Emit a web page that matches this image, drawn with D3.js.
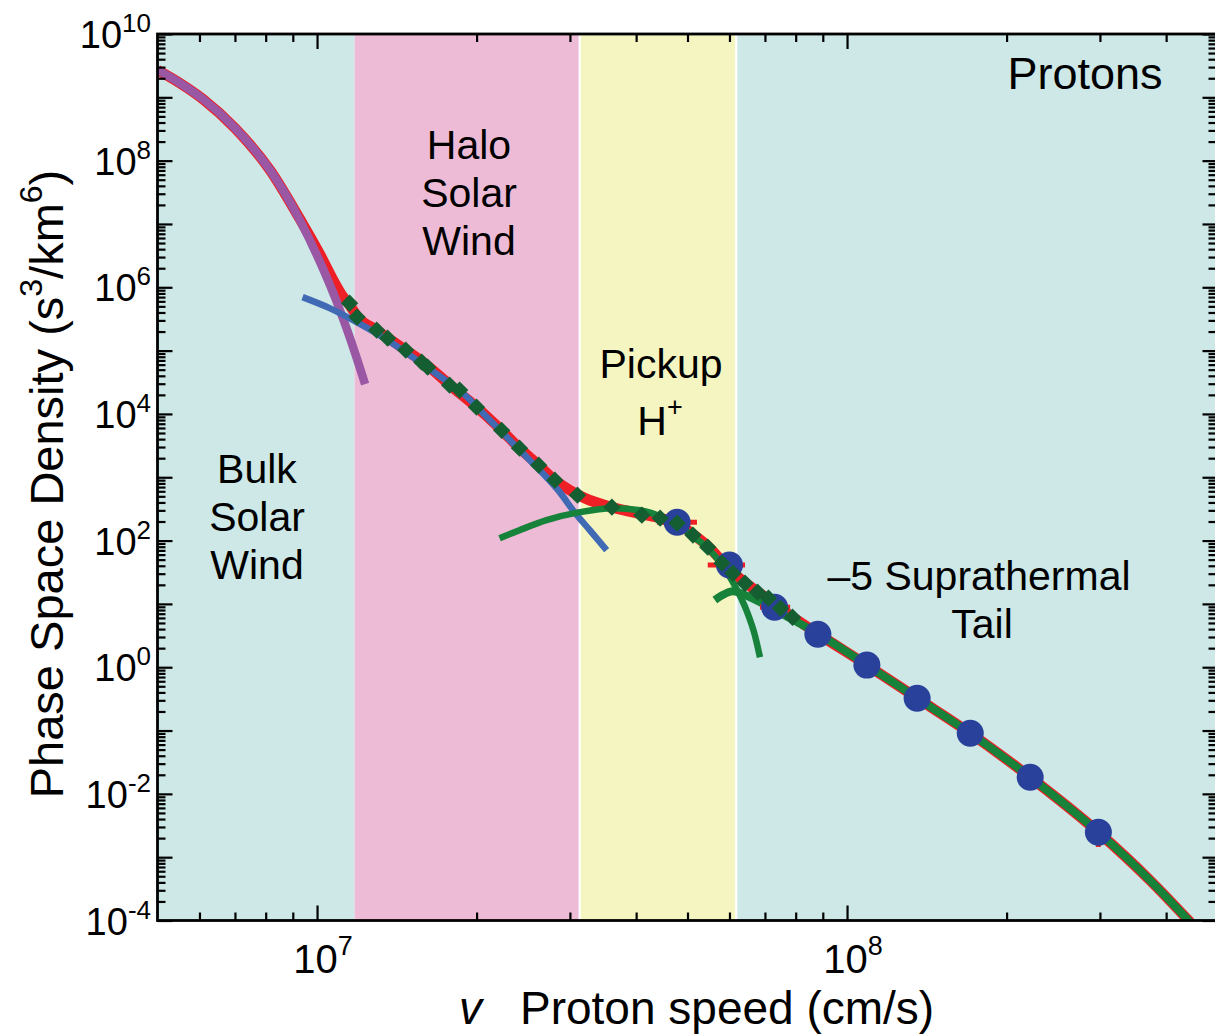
<!DOCTYPE html>
<html>
<head>
<meta charset="utf-8">
<script src="https://cdn.jsdelivr.net/npm/d3@7"></script>
<style>
  body { margin: 0; background: #fff; }
  svg { display: block; }
  text { font-family: "Liberation Sans", Arial, Helvetica, sans-serif; fill: #000; }
</style>
</head>
<body>
<svg id="chart" width="1215" height="1034"></svg>
<script>
// Proton phase space density vs speed.
// [speed (cm/s), phase space density (s^3/km^6)]

const bands = [
  { name: "bulk",   from: 5e6,    to: 1.177e7, color: "#cde8e7" },
  { name: "halo",   from: 1.177e7, to: 3.13e7, color: "#edbbd6" },
  { name: "pickup", from: 3.13e7, to: 6.18e7,  color: "#f5f5c1" },
  { name: "tail",   from: 6.18e7, to: 5e8,     color: "#cde8e7" },
];

// bulk solar wind (Maxwellian core)
const coreCurve = [
  [5.0e6, 2.7e9], [5.51e6, 1.68e9], [6.09e6, 9.4e8], [7.0e6, 3.27e8],
  [8.15e6, 7.11e7], [9.28e6, 1.15e7], [1.013e7, 2.5e6], [1.086e7, 6.28e5],
  [1.154e7, 1.57e5], [1.232e7, 2.96e4],
];

// halo solar wind
const haloCurve = [
  [9.39e6, 7.0e5], [1.056e7, 4.69e5], [1.188e7, 2.82e5], [1.341e7, 1.57e5],
  [1.515e7, 7.9e4], [1.703e7, 3.95e4], [1.883e7, 2.13e4], [2.118e7, 7.98e3],
  [2.34e7, 3.46e3], [2.52e7, 1.86e3], [2.71e7, 1.0e3], [2.87e7, 582],
  [3.04e7, 302], [3.27e7, 146], [3.52e7, 70.5],
];

// interstellar pickup H+
const pickupCurve = [
  [2.21e7, 109], [2.41e7, 146], [2.71e7, 210], [3.13e7, 281], [3.61e7, 325],
  [4.07e7, 302], [4.44e7, 243], [4.84e7, 169], [5.12e7, 117], [5.46e7, 75.8],
  [5.76e7, 45.6], [6.09e7, 22.0], [6.48e7, 7.4], [6.70e7, 3.2], [6.85e7, 1.44],
];

// -5 suprathermal tail
const tailCurve = [
  [5.63e7, 11.5], [5.81e7, 13.7], [6.09e7, 15.9], [6.50e7, 13.2], [7.31e7, 7.94],
  [8.78e7, 3.44], [1.09e8, 1.08], [1.356e8, 0.324], [1.708e8, 0.0906],
  [2.216e8, 0.0183], [2.98e8, 2.47e-3], [3.73e8, 4.3e-4], [4.44e8, 9.4e-5],
];

// sum of all components
const totalCurve = [
  [5.0e6, 2.7e9], [5.51e6, 1.68e9], [6.09e6, 9.4e8], [7.0e6, 3.27e8],
  [8.15e6, 7.11e7], [9.28e6, 1.2e7], [1.013e7, 3.3e6], [1.07e7, 1.35e6],
  [1.117e7, 7.26e5], [1.152e7, 5.24e5], [1.19e7, 3.5e5], [1.296e7, 2.1e5],
  [1.47e7, 1.02e5], [1.596e7, 6.3e4], [1.80e7, 2.65e4], [2.0e7, 1.28e4],
  [2.23e7, 5.5e3], [2.41e7, 2.88e3], [2.62e7, 1.55e3], [2.81e7, 900],
  [3.0e7, 625], [3.2e7, 468], [3.6e7, 337], [4.1e7, 261], [4.44e7, 226],
  [4.78e7, 188], [5.12e7, 126], [5.46e7, 81.5], [5.81e7, 47.3], [6.14e7, 29.5],
  [6.56e7, 19.0], [7.15e7, 11.5], [7.81e7, 6.6], [8.78e7, 3.44], [1.09e8, 1.08],
  [1.356e8, 0.324], [1.708e8, 0.0906], [2.216e8, 0.0183], [2.98e8, 2.47e-3],
  [3.73e8, 4.3e-4], [4.44e8, 9.4e-5],
];

// measured points, green diamonds
const diamondSpeed = [
  1.152e7, 1.19e7, 1.296e7, 1.359e7, 1.47e7, 1.576e7, 1.617e7, 1.779e7, 1.858e7,
  2.0e7, 2.23e7, 2.41e7, 2.62e7, 2.81e7, 3.10e7, 3.6e7, 4.1e7, 4.44e7, 4.78e7,
  5.12e7, 5.46e7, 5.81e7, 6.09e7, 6.42e7, 6.78e7, 7.11e7, 7.49e7, 7.89e7,
];
const diamondDensity = [
  5.6e5, 3.38e5, 2.1e5, 1.57e5, 1.02e5, 6.57e4, 5.48e4, 2.85e4, 2.38e4,
  1.28e4, 5.5e3, 2.88e3, 1.55e3, 900, 521, 337, 252, 226, 188,
  122, 78.7, 44, 30.5, 21.2, 15.3, 12.3, 8.5, 6.15,
];

// measured points, blue circles (with red error bars)
const circleSpeed   = [4.78e7, 6.0e7, 7.3e7, 8.81e7, 1.09e8, 1.356e8, 1.708e8, 2.216e8, 2.98e8];
const circleDensity = [195, 41.2, 8.87, 3.32, 1.08, 0.324, 0.0906, 0.0183, 2.47e-3];
const circleSpeedLo = [4.38e7, 5.46e7, 6.85e7, 8.5e7, 1.05e8, 1.31e8, 1.65e8, 2.14e8, 2.88e8];
const circleSpeedHi = [5.21e7, 6.42e7, 7.81e7, 9.1e7, 1.13e8, 1.40e8, 1.77e8, 2.29e8, 3.08e8];
const circleDensLo  = [180, 38, 8.2, 3.0, 0.98, 0.29, 0.08, 0.016, 1.45e-3];
const circleDensHi  = [210, 44, 9.5, 3.6, 1.18, 0.36, 0.10, 0.021, 3.2e-3];

const xMajor = [1e7, 1e8];
const yMajorExp = d3.range(-4, 11);
const yLabelExp = [10, 8, 6, 4, 2, 0, -2, -4];
const xLabelExp = [7, 8];

// ---------------------------------------------------------------------------

const svg = d3.select("#chart");
const pL = 157.5, pR = 1217.5, pT = 34, pB = 920.5;

const x = d3.scaleLog().domain([5e6, 5e8]).range([pL, pR]);
const y = d3.scaleLog().domain([1e-4, 1e10]).range([pB, pT]);

svg.append("defs").append("clipPath").attr("id", "plot-clip")
  .append("rect")
  .attr("x", pL).attr("y", pT)
  .attr("width", pR - pL).attr("height", pB - pT);

// background bands
svg.append("g").selectAll("rect").data(bands).join("rect")
  .attr("x", d => x(d.from))
  .attr("y", pT)
  .attr("width", d => x(d.to) - x(d.from))
  .attr("height", pB - pT)
  .attr("fill", d => d.color);

// thin white separators around the pickup band
svg.append("g").selectAll("line").data([bands[2].from, bands[2].to]).join("line")
  .attr("x1", d => x(d)).attr("x2", d => x(d))
  .attr("y1", pT).attr("y2", pB)
  .attr("stroke", "#fff").attr("stroke-width", 2.2);

const plot = svg.append("g").attr("clip-path", "url(#plot-clip)");

const line = d3.line()
  .x(d => x(d[0]))
  .y(d => y(d[1]))
  .curve(d3.curveMonotoneX);

function drawCurve(data, color, width) {
  plot.append("path")
    .attr("d", line(data))
    .attr("fill", "none")
    .attr("stroke", color)
    .attr("stroke-width", width)
    .attr("stroke-linejoin", "round");
}

drawCurve(totalCurve,  "#ee2025", 10.5);
drawCurve(coreCurve,   "#9a57a4", 8.5);
drawCurve(haloCurve,   "#406ab4", 6.5);
drawCurve(pickupCurve, "#178239", 6.5);
drawCurve(tailCurve,   "#178239", 8);

// red error bars under the circles
const circles = circleSpeed.map((v, i) => ({
  v, f: circleDensity[i],
  vLo: circleSpeedLo[i], vHi: circleSpeedHi[i],
  fLo: circleDensLo[i], fHi: circleDensHi[i],
}));

const err = plot.append("g").attr("stroke", "#ee2025").attr("stroke-width", 5);
err.selectAll("line.h").data(circles).join("line").attr("class", "h")
  .attr("x1", d => x(d.vLo)).attr("x2", d => x(d.vHi))
  .attr("y1", d => y(d.f)).attr("y2", d => y(d.f));
err.selectAll("line.v").data(circles).join("line").attr("class", "v")
  .attr("x1", d => x(d.v)).attr("x2", d => x(d.v))
  .attr("y1", d => y(d.fLo)).attr("y2", d => y(d.fHi));

plot.append("g").selectAll("circle").data(circles).join("circle")
  .attr("cx", d => x(d.v))
  .attr("cy", d => y(d.f))
  .attr("r", 13.5)
  .attr("fill", "#2a419c");

const square = d3.symbol().type(d3.symbolSquare).size(150);
plot.append("g").selectAll("path").data(diamondSpeed).join("path")
  .attr("d", square)
  .attr("transform", (d, i) => `translate(${x(d)},${y(diamondDensity[i])}) rotate(45)`)
  .attr("fill", "#145e31");

// ---------------------------------------------------------------------------
// frame and ticks (all pointing inward)

const xMinor = [];
for (let e = 6; e <= 8; e++) for (let k = 2; k <= 9; k++) {
  const v = k * Math.pow(10, e);
  if (v > 5e6 && v < 5e8) xMinor.push(v);
}
const yMinor = [];
for (let e = -4; e <= 9; e++) for (let k = 2; k <= 9; k++) yMinor.push(k * Math.pow(10, e));
const yMajor = yMajorExp.map(e => Math.pow(10, e));

function tickAxis(axisFn, scale, values, size, translate) {
  const g = svg.append("g")
    .attr("transform", translate)
    .call(axisFn(scale).tickValues(values).tickSize(size).tickFormat(""));
  g.select(".domain").remove();
  g.selectAll(".tick line").attr("stroke", "#000").attr("stroke-width", 2.2);
}

tickAxis(d3.axisBottom, x, xMajor, -15, `translate(0,${pB})`);
tickAxis(d3.axisBottom, x, xMinor, -8, `translate(0,${pB})`);
tickAxis(d3.axisTop, x, xMajor, -15, `translate(0,${pT})`);
tickAxis(d3.axisTop, x, xMinor, -8, `translate(0,${pT})`);
tickAxis(d3.axisLeft, y, yMajor, -15, `translate(${pL},0)`);
tickAxis(d3.axisLeft, y, yMinor, -8, `translate(${pL},0)`);
tickAxis(d3.axisRight, y, yMajor, -13, `translate(${pR - 2},0)`);
tickAxis(d3.axisRight, y, yMinor, -7, `translate(${pR - 2},0)`);

svg.append("rect")
  .attr("x", pL).attr("y", pT)
  .attr("width", pR - pL).attr("height", pB - pT)
  .attr("fill", "none").attr("stroke", "#000").attr("stroke-width", 2.8);

// tick labels with superscript exponents
const yLab = svg.append("g").attr("font-size", 38).attr("text-anchor", "end");
yLabelExp.forEach(e => {
  const t = yLab.append("text")
    .attr("x", 151)
    .attr("y", y(Math.pow(10, e)) + 14);
  t.append("tspan").text("10");
  t.append("tspan").attr("font-size", 26).attr("dy", -16).text(e);
});

const xLab = svg.append("g").attr("font-size", 40).attr("text-anchor", "middle");
xLabelExp.forEach(e => {
  const t = xLab.append("text")
    .attr("x", x(Math.pow(10, e)) + 6)
    .attr("y", 973);
  t.append("tspan").text("10");
  t.append("tspan").attr("font-size", 27).attr("dy", -18).text(e);
});

// axis titles
const xt = svg.append("text").attr("font-size", 46).attr("y", 1024);
xt.append("tspan").attr("x", 459).attr("font-style", "italic").text("v");
xt.append("tspan").attr("x", 520).text("Proton speed (cm/s)");

const yt = svg.append("text")
  .attr("font-size", 47)
  .attr("text-anchor", "middle")
  .attr("transform", "translate(63,484) rotate(-90)");
yt.append("tspan").text("Phase Space Density (s");
yt.append("tspan").attr("font-size", 32).attr("dy", -21).text("3");
yt.append("tspan").attr("dy", 21).text("/km");
yt.append("tspan").attr("font-size", 32).attr("dy", -21).text("6");
yt.append("tspan").attr("dy", 21).text(")");

// region annotations
const notes = svg.append("g").attr("font-size", 41).attr("text-anchor", "middle");
function note(lines, cx, y0, dy) {
  lines.forEach((s, i) => notes.append("text").attr("x", cx).attr("y", y0 + i * dy).text(s));
}
note(["Halo", "Solar", "Wind"], 469, 159, 48);
note(["Bulk", "Solar", "Wind"], 257, 483, 48);
note(["Pickup"], 661, 378, 0);
note(["–5 Suprathermal"], 979, 590, 0);
note(["Tail"], 982, 638, 0);
notes.append("text").attr("x", 1085).attr("y", 89).attr("font-size", 45).text("Protons");

const hp = notes.append("text").attr("x", 660).attr("y", 435);
hp.append("tspan").text("H");
hp.append("tspan").attr("font-size", 27).attr("dy", -19).text("+");
</script>
</body>
</html>
